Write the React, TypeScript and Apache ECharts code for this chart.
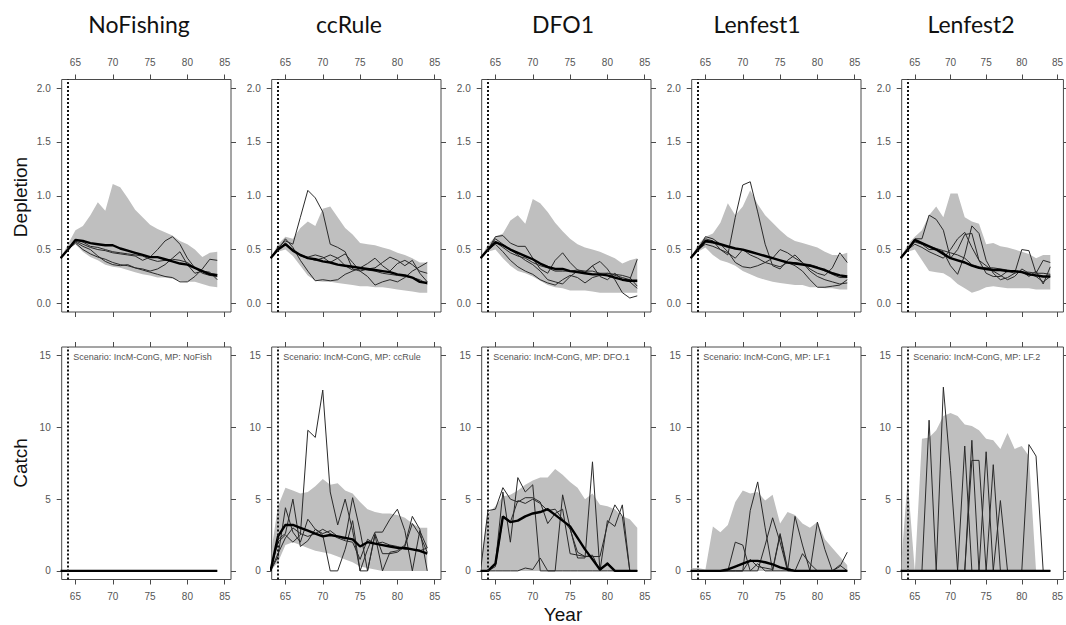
import React, { useEffect, useRef } from "react";
import * as echarts from "echarts";

const YEARS = [63, 64, 65, 66, 67, 68, 69, 70, 71, 72, 73, 74, 75, 76, 77, 78, 79, 80, 81, 82, 83, 84];
const MP_TITLES = ["NoFishing", "ccRule", "DFO1", "Lenfest1", "Lenfest2"];
const MP_CODES = ["NoFish", "ccRule", "DFO.1", "LF.1", "LF.2"];
const X_TICKS = [65, 70, 75, 80, 85];
const DEP_TICKS = [0, 0.5, 1, 1.5, 2];
const CATCH_TICKS = [0, 5, 10, 15];
const PROJ_START = 64;

// ---------- Depletion ----------
const depNoFishUpper = [0.42, 0.55, 0.68, 0.72, 0.82, 0.94, 0.86, 1.11, 1.08, 0.98, 0.87, 0.8, 0.73, 0.69, 0.66, 0.63, 0.58, 0.55, 0.5, 0.43, 0.47, 0.48];
const depNoFishLower = [0.42, 0.5, 0.55, 0.48, 0.43, 0.4, 0.36, 0.34, 0.33, 0.31, 0.29, 0.27, 0.26, 0.24, 0.24, 0.23, 0.21, 0.2, 0.2, 0.18, 0.16, 0.15];
const depNoFishMedian = [0.42, 0.5, 0.59, 0.58, 0.56, 0.55, 0.54, 0.54, 0.51, 0.49, 0.47, 0.45, 0.43, 0.43, 0.41, 0.39, 0.37, 0.36, 0.33, 0.3, 0.27, 0.26];
const depNoFishSim1 = [0.42, 0.5, 0.58, 0.55, 0.52, 0.5, 0.49, 0.47, 0.46, 0.45, 0.44, 0.4, 0.43, 0.5, 0.58, 0.62, 0.55, 0.42, 0.33, 0.28, 0.26, 0.25];
const depNoFishSim2 = [0.42, 0.5, 0.56, 0.5, 0.46, 0.43, 0.41, 0.38, 0.36, 0.35, 0.33, 0.31, 0.29, 0.27, 0.25, 0.24, 0.2, 0.2, 0.25, 0.32, 0.41, 0.4];
const depNoFishSim3 = [0.42, 0.5, 0.57, 0.53, 0.5, 0.44, 0.39, 0.36, 0.35, 0.36, 0.33, 0.32, 0.3, 0.32, 0.36, 0.42, 0.48, 0.36, 0.28, 0.3, 0.29, 0.22];
const depNoFishSim4 = [0.42, 0.5, 0.59, 0.57, 0.53, 0.52, 0.5, 0.48, 0.47, 0.46, 0.45, 0.44, 0.41, 0.39, 0.4, 0.41, 0.4, 0.38, 0.33, 0.3, 0.28, 0.27];

const depCcUpper = [0.42, 0.55, 0.62, 0.6, 0.7, 0.76, 0.72, 0.88, 0.9, 0.8, 0.7, 0.64, 0.56, 0.55, 0.54, 0.52, 0.5, 0.47, 0.45, 0.42, 0.38, 0.38];
const depCcLower = [0.42, 0.48, 0.5, 0.44, 0.35, 0.26, 0.21, 0.2, 0.2, 0.19, 0.18, 0.17, 0.16, 0.16, 0.15, 0.15, 0.14, 0.13, 0.12, 0.11, 0.1, 0.1];
const depCcMedian = [0.42, 0.5, 0.55, 0.49, 0.45, 0.42, 0.41, 0.39, 0.38, 0.36, 0.35, 0.34, 0.33, 0.32, 0.31, 0.3, 0.29, 0.27, 0.26, 0.24, 0.2, 0.19];
const depCcSim1 = [0.42, 0.52, 0.58, 0.55, 0.8, 1.05, 0.98, 0.85, 0.55, 0.52, 0.48, 0.32, 0.3, 0.25, 0.17, 0.2, 0.22, 0.2, 0.24, 0.3, 0.34, 0.38];
const depCcSim2 = [0.42, 0.5, 0.6, 0.52, 0.4, 0.3, 0.21, 0.22, 0.21, 0.22, 0.27, 0.3, 0.33, 0.37, 0.42, 0.35, 0.3, 0.37, 0.4, 0.36, 0.3, 0.28];
const depCcSim3 = [0.42, 0.5, 0.55, 0.5, 0.45, 0.43, 0.45, 0.43, 0.38, 0.42, 0.46, 0.38, 0.3, 0.32, 0.33, 0.38, 0.43, 0.4, 0.35, 0.4, 0.28, 0.2];
const depCcSim4 = [0.42, 0.5, 0.56, 0.5, 0.44, 0.42, 0.4, 0.42, 0.45, 0.42, 0.35, 0.31, 0.32, 0.31, 0.3, 0.28, 0.27, 0.26, 0.25, 0.24, 0.22, 0.18];

const depDfoUpper = [0.42, 0.55, 0.62, 0.65, 0.77, 0.82, 0.74, 0.97, 0.93, 0.85, 0.75, 0.67, 0.6, 0.55, 0.52, 0.5, 0.48, 0.45, 0.42, 0.37, 0.4, 0.42];
const depDfoLower = [0.42, 0.48, 0.5, 0.42, 0.35, 0.3, 0.28, 0.25, 0.21, 0.17, 0.15, 0.14, 0.12, 0.12, 0.12, 0.11, 0.1, 0.1, 0.1, 0.1, 0.1, 0.1];
const depDfoMedian = [0.42, 0.5, 0.57, 0.54, 0.5, 0.47, 0.44, 0.41, 0.37, 0.34, 0.32, 0.32, 0.3, 0.29, 0.28, 0.27, 0.27, 0.26, 0.24, 0.22, 0.21, 0.21];
const depDfoSim1 = [0.42, 0.5, 0.62, 0.63, 0.56, 0.53, 0.53, 0.42, 0.32, 0.28, 0.4, 0.47, 0.38, 0.31, 0.29, 0.35, 0.39, 0.32, 0.22, 0.1, 0.05, 0.07];
const depDfoSim2 = [0.42, 0.5, 0.6, 0.55, 0.5, 0.45, 0.4, 0.36, 0.3, 0.22, 0.2, 0.18, 0.25, 0.3, 0.28, 0.35, 0.25, 0.22, 0.28, 0.22, 0.2, 0.14];
const depDfoSim3 = [0.42, 0.5, 0.55, 0.48, 0.4, 0.34, 0.3, 0.27, 0.22, 0.19, 0.17, 0.22, 0.26, 0.24, 0.19, 0.24, 0.26, 0.28, 0.26, 0.24, 0.22, 0.41];
const depDfoSim4 = [0.42, 0.5, 0.57, 0.52, 0.47, 0.44, 0.42, 0.38, 0.35, 0.33, 0.3, 0.3, 0.3, 0.31, 0.3, 0.3, 0.28, 0.28, 0.27, 0.26, 0.24, 0.16];

const depLf1Upper = [0.42, 0.55, 0.62, 0.65, 0.75, 0.93, 0.82, 0.9, 1.05, 0.92, 0.82, 0.75, 0.68, 0.62, 0.58, 0.56, 0.54, 0.52, 0.48, 0.45, 0.45, 0.47];
const depLf1Lower = [0.42, 0.48, 0.52, 0.45, 0.4, 0.38, 0.35, 0.3, 0.27, 0.24, 0.22, 0.2, 0.19, 0.18, 0.17, 0.17, 0.15, 0.15, 0.14, 0.14, 0.13, 0.13];
const depLf1Median = [0.42, 0.5, 0.58, 0.57, 0.55, 0.53, 0.51, 0.5, 0.48, 0.46, 0.44, 0.42, 0.4, 0.38, 0.37, 0.36, 0.35, 0.33, 0.31, 0.28, 0.26, 0.25];
const depLf1Sim1 = [0.42, 0.52, 0.6, 0.58, 0.5, 0.45, 0.8, 1.1, 1.13, 0.85, 0.55, 0.35, 0.32, 0.4, 0.45, 0.38, 0.3, 0.25, 0.22, 0.2, 0.18, 0.19];
const depLf1Sim2 = [0.42, 0.5, 0.62, 0.6, 0.55, 0.48, 0.38, 0.34, 0.33, 0.35, 0.38, 0.42, 0.5, 0.47, 0.42, 0.38, 0.32, 0.28, 0.26, 0.33, 0.47, 0.38];
const depLf1Sim3 = [0.42, 0.5, 0.55, 0.53, 0.5, 0.47, 0.42, 0.5, 0.45, 0.42, 0.38, 0.36, 0.34, 0.38, 0.35, 0.3, 0.22, 0.15, 0.15, 0.16, 0.17, 0.22];
const depLf1Sim4 = [0.42, 0.5, 0.57, 0.56, 0.54, 0.52, 0.51, 0.5, 0.48, 0.46, 0.44, 0.42, 0.4, 0.38, 0.38, 0.37, 0.36, 0.34, 0.3, 0.27, 0.24, 0.24];

const depLf2Upper = [0.42, 0.55, 0.62, 0.68, 0.82, 0.9, 0.8, 1.02, 1.02, 0.8, 0.76, 0.74, 0.55, 0.56, 0.53, 0.52, 0.5, 0.48, 0.46, 0.42, 0.45, 0.45];
const depLf2Lower = [0.42, 0.48, 0.5, 0.4, 0.3, 0.29, 0.28, 0.24, 0.18, 0.14, 0.1, 0.12, 0.15, 0.16, 0.15, 0.14, 0.14, 0.14, 0.14, 0.13, 0.13, 0.13];
const depLf2Median = [0.42, 0.5, 0.59, 0.56, 0.53, 0.5, 0.46, 0.42, 0.4, 0.38, 0.35, 0.33, 0.32, 0.31, 0.31, 0.3, 0.3, 0.29, 0.27, 0.26, 0.25, 0.25];
const depLf2Sim1 = [0.42, 0.5, 0.6, 0.6, 0.82, 0.78, 0.68, 0.42, 0.5, 0.64, 0.65, 0.4, 0.28, 0.25, 0.25, 0.3, 0.28, 0.5, 0.49, 0.28, 0.4, 0.38];
const depLf2Sim2 = [0.42, 0.5, 0.58, 0.55, 0.5, 0.5, 0.48, 0.35, 0.27, 0.45, 0.72, 0.65, 0.4, 0.28, 0.22, 0.24, 0.28, 0.3, 0.25, 0.3, 0.18, 0.34];
const depLf2Sim3 = [0.42, 0.5, 0.55, 0.52, 0.48, 0.45, 0.42, 0.5, 0.6, 0.66, 0.52, 0.4, 0.35, 0.3, 0.26, 0.22, 0.25, 0.32, 0.28, 0.25, 0.2, 0.25];
const depLf2Sim4 = [0.42, 0.5, 0.57, 0.55, 0.53, 0.51, 0.49, 0.47, 0.45, 0.42, 0.36, 0.34, 0.33, 0.33, 0.32, 0.31, 0.3, 0.29, 0.29, 0.28, 0.28, 0.27];

// ---------- Catch ----------
const catchNoFishUpper = [0, 0, 0, 0, 0, 0, 0, 0, 0, 0, 0, 0, 0, 0, 0, 0, 0, 0, 0, 0, 0, 0];
const catchNoFishLower = [0, 0, 0, 0, 0, 0, 0, 0, 0, 0, 0, 0, 0, 0, 0, 0, 0, 0, 0, 0, 0, 0];
const catchNoFishMedian = [0, 0, 0, 0, 0, 0, 0, 0, 0, 0, 0, 0, 0, 0, 0, 0, 0, 0, 0, 0, 0, 0];
const catchNoFishSim1 = [0, 0, 0, 0, 0, 0, 0, 0, 0, 0, 0, 0, 0, 0, 0, 0, 0, 0, 0, 0, 0, 0];

const catchCcUpper = [1.0, 4.5, 5.8, 5.6, 5.4, 5.5, 5.9, 6.4, 6.0, 6.1, 5.6, 5.4, 4.8, 4.3, 4.1, 4.0, 4.0, 3.9, 3.7, 3.3, 3.0, 3.0];
const catchCcLower = [0, 0.6, 1.8, 2.0, 1.8, 1.6, 1.4, 1.3, 1.2, 1.0, 0.8, 0.6, 0.3, 0.2, 0.1, 0, 0, 0, 0, 0, 0, 0];
const catchCcMedian = [0, 2.4, 3.2, 3.2, 3.0, 2.8, 2.6, 2.4, 2.5, 2.4, 2.3, 2.2, 1.7, 2.0, 1.9, 1.8, 1.7, 1.6, 1.6, 1.5, 1.4, 1.2];
const catchCcSim1 = [0, 2.0, 2.5, 2.0, 2.5, 9.8, 9.3, 12.6, 5.5, 3.2, 5.0, 2.8, 0, 1.5, 2.7, 2.7, 3.6, 4.3, 2.8, 0, 2.8, 1.6];
const catchCcSim2 = [0, 1.0, 4.4, 2.7, 2.0, 3.6, 2.9, 2.6, 2.8, 2.4, 2.2, 5.1, 2.8, 0, 2.5, 0, 1.3, 1.4, 1.8, 3.8, 2.9, 0];
const catchCcSim3 = [0, 2.2, 2.6, 5.0, 1.7, 2.1, 2.9, 2.5, 0, 0, 1.5, 3.5, 0, 0, 2.6, 1.2, 1.2, 1.3, 1.7, 3.3, 2.5, 1.3];
const catchCcSim4 = [0, 1.2, 2.3, 3.0, 2.6, 2.4, 2.6, 2.9, 2.6, 2.3, 2.1, 2.0, 0.8, 2.2, 1.9, 2.0, 1.8, 1.7, 1.5, 1.5, 1.4, 1.6];

const catchDfoUpper = [0.5, 4.0, 4.5, 5.2, 5.3, 5.6, 6.0, 6.3, 6.5, 6.5, 7.1, 6.7, 6.2, 5.8, 5.0, 5.4, 4.6, 4.5, 4.3, 3.8, 3.6, 3.0];
const catchDfoLower = [0, 0, 0, 0, 0, 0, 0, 0, 0, 0, 0, 0, 0, 0, 0, 0, 0, 0, 0, 0, 0, 0];
const catchDfoMedian = [0, 0, 0.5, 3.8, 3.4, 3.5, 3.8, 4.0, 4.1, 4.3, 3.9, 3.5, 3.1, 2.3, 1.5, 0.8, 0.1, 0.5, 0, 0, 0, 0];
const catchDfoSim1 = [0, 4.2, 4.3, 5.8, 5.0, 4.8, 5.1, 5.1, 4.8, 3.3, 4.0, 4.3, 1.2, 1.1, 1.0, 1.0, 1.0, 3.2, 4.6, 3.8, 0, 0];
const catchDfoSim2 = [0, 0, 0.5, 5.5, 2.0, 6.5, 5.5, 6.0, 0, 0, 0, 5.3, 3.0, 0.9, 0.9, 7.6, 0, 3.5, 3.1, 4.6, 0, 0];
const catchDfoSim3 = [0, 0, 0, 0, 0, 0, 0.2, 0.1, 0.9, 0, 0, 0, 0, 0, 0, 0, 0, 0, 0, 0, 0, 0];
const catchDfoSim4 = [0, 0, 0.3, 3.7, 3.4, 4.9, 4.7, 5.0, 4.7, 4.2, 4.3, 3.6, 2.9, 1.3, 1.0, 1.1, 0, 0.6, 0, 0, 0, 0];

const catchLf1Upper = [0.2, 0.2, 0.1, 3.1, 2.7, 3.2, 4.8, 5.6, 5.4, 5.5, 4.9, 5.3, 3.3, 4.1, 3.9, 3.3, 3.0, 3.4, 2.2, 1.6, 1.0, 0.4];
const catchLf1Lower = [0, 0, 0, 0, 0, 0, 0, 0, 0, 0, 0, 0, 0, 0, 0, 0, 0, 0, 0, 0, 0, 0];
const catchLf1Median = [0, 0, 0, 0, 0, 0.1, 0.3, 0.5, 0.7, 0.7, 0.6, 0.45, 0.25, 0.1, 0, 0, 0, 0, 0, 0, 0, 0];
const catchLf1Sim1 = [0, 0, 0, 0, 0, 0, 2.0, 1.8, 0, 0.5, 0, 0, 0, 0, 0, 0, 0, 0, 0, 0, 0, 0];
const catchLf1Sim2 = [0, 0, 0, 0, 0, 0, 0, 0, 4.2, 6.2, 3.0, 0, 2.5, 0, 3.8, 1.8, 0, 3.4, 1.5, 0, 0, 0];
const catchLf1Sim3 = [0, 0, 0, 0, 0, 0, 0, 0, 0, 0, 1.8, 3.7, 2.0, 0, 0, 1.2, 0.5, 0, 0, 0, 0.3, 1.3];
const catchLf1Sim4 = [0, 0, 0, 0, 0, 0, 0, 0, 0.8, 0.3, 0.2, 0.1, 2.6, 0.2, 0, 0, 0, 0, 0, 0, 0.4, 0];

const catchLf2Upper = [0, 6.3, 0, 9.2, 9.3, 9.8, 10.8, 11.0, 10.8, 10.2, 10.1, 9.8, 9.2, 9.1, 8.5, 9.6, 8.5, 8.7, 8.0, 0, 0, 0];
const catchLf2Lower = [0, 0, 0, 0, 0, 0, 0, 0, 0, 0, 0, 0, 0, 0, 0, 0, 0, 0, 0, 0, 0, 0];
const catchLf2Median = [0, 0, 0, 0, 0, 0, 0, 0, 0, 0, 0, 0, 0, 0, 0, 0, 0, 0, 0, 0, 0, 0];
const catchLf2Sim1 = [0, 0, 0, 0, 10.5, 0, 0, 0, 0, 8.7, 0, 0, 8.3, 0, 0, 0, 0, 0, 8.8, 8.0, 0, 0];
const catchLf2Sim2 = [0, 0, 0, 0, 0, 0, 12.8, 7.0, 0, 0, 9.1, 0, 0, 7.4, 0, 0, 0, 0, 0, 0, 0, 0];
const catchLf2Sim3 = [0, 0, 0, 0, 0, 0, 0, 0, 0, 0, 7.7, 7.7, 0, 0, 4.9, 0, 0, 0, 0, 0, 0, 0];

const DEP_PANELS = [
  { upper: depNoFishUpper, lower: depNoFishLower, median: depNoFishMedian, sims: [depNoFishSim1, depNoFishSim2, depNoFishSim3, depNoFishSim4] },
  { upper: depCcUpper, lower: depCcLower, median: depCcMedian, sims: [depCcSim1, depCcSim2, depCcSim3, depCcSim4] },
  { upper: depDfoUpper, lower: depDfoLower, median: depDfoMedian, sims: [depDfoSim1, depDfoSim2, depDfoSim3, depDfoSim4] },
  { upper: depLf1Upper, lower: depLf1Lower, median: depLf1Median, sims: [depLf1Sim1, depLf1Sim2, depLf1Sim3, depLf1Sim4] },
  { upper: depLf2Upper, lower: depLf2Lower, median: depLf2Median, sims: [depLf2Sim1, depLf2Sim2, depLf2Sim3, depLf2Sim4] },
];
const CATCH_PANELS = [
  { upper: catchNoFishUpper, lower: catchNoFishLower, median: catchNoFishMedian, sims: [catchNoFishSim1] },
  { upper: catchCcUpper, lower: catchCcLower, median: catchCcMedian, sims: [catchCcSim1, catchCcSim2, catchCcSim3, catchCcSim4] },
  { upper: catchDfoUpper, lower: catchDfoLower, median: catchDfoMedian, sims: [catchDfoSim1, catchDfoSim2, catchDfoSim3, catchDfoSim4] },
  { upper: catchLf1Upper, lower: catchLf1Lower, median: catchLf1Median, sims: [catchLf1Sim1, catchLf1Sim2, catchLf1Sim3, catchLf1Sim4] },
  { upper: catchLf2Upper, lower: catchLf2Lower, median: catchLf2Median, sims: [catchLf2Sim1, catchLf2Sim2, catchLf2Sim3] },
];

const X_MIN = 63.16;
const X_MAX = 85.84;
const DEP_MIN = -0.08;
const DEP_MAX = 2.08;
const CATCH_MIN = -0.6;
const CATCH_MAX = 15.6;

const FRAME = "#4a4a4a";
const TICK_LABEL = "#555555";
const BAND = "#bfbfbf";

function buildOption() {
  const grid: any[] = [];
  const xAxis: any[] = [];
  const yAxis: any[] = [];
  const series: any[] = [];
  const graphic: any[] = [];

  const colLeft = (c: number) => 61.7 + 210 * c;
  const panelW = 169.3;
  const rowTop = [79.5, 347];
  const panelH = 232.5;

  for (let r = 0; r < 2; r++) {
    for (let c = 0; c < 5; c++) {
      const idx = r * 5 + c;
      const panel = r === 0 ? DEP_PANELS[c] : CATCH_PANELS[c];
      const yTicks = r === 0 ? DEP_TICKS : CATCH_TICKS;
      grid.push({
        left: colLeft(c),
        top: rowTop[r],
        width: panelW,
        height: panelH,
        show: true,
        borderColor: FRAME,
        borderWidth: 1,
        backgroundColor: "transparent",
      });
      const xBase = {
        gridIndex: idx,
        type: "value",
        min: X_MIN,
        max: X_MAX,
        axisLine: { show: false, onZero: false },
        splitLine: { show: false },
        axisTick: { show: true, inside: false, length: 5, customValues: X_TICKS, lineStyle: { color: FRAME, width: 1 } },
      };
      xAxis.push({
        ...xBase,
        position: r === 0 ? "top" : "bottom",
        axisLabel: { show: true, customValues: X_TICKS, fontSize: 10, color: TICK_LABEL, margin: 12, fontFamily: "Liberation Sans" },
      });
      xAxis.push({
        ...xBase,
        position: r === 0 ? "bottom" : "top",
        axisLabel: { show: false },
      });
      const yBase = {
        gridIndex: idx,
        type: "value",
        min: r === 0 ? DEP_MIN : CATCH_MIN,
        max: r === 0 ? DEP_MAX : CATCH_MAX,
        axisLine: { show: false, onZero: false },
        splitLine: { show: false },
        axisTick: { show: true, inside: false, length: 5, customValues: yTicks, lineStyle: { color: FRAME, width: 1 } },
      };
      yAxis.push({
        ...yBase,
        position: "left",
        axisLabel: {
          show: true,
          customValues: yTicks,
          fontSize: 10,
          color: TICK_LABEL,
          margin: 11,
          fontFamily: "Liberation Sans",
          formatter: (v: number) => (r === 0 ? v.toFixed(1) : String(Math.round(v))),
        },
      });
      yAxis.push({ ...yBase, position: "right", axisLabel: { show: false } });

      const xi = idx * 2;
      const yi = idx * 2;
      const up = panel.upper;
      const lo = panel.lower;
      series.push({
        type: "custom",
        xAxisIndex: xi,
        yAxisIndex: yi,
        clip: true,
        silent: true,
        z: 1,
        data: [[PROJ_START, 0]],
        renderItem: (params: any, api: any) => {
          const pts: number[][] = [];
          for (let i = 0; i < YEARS.length; i++) pts.push(api.coord([YEARS[i], up[i]]));
          for (let i = YEARS.length - 1; i >= 0; i--) pts.push(api.coord([YEARS[i], lo[i]]));
          const cs = params.coordSys;
          return {
            type: "group",
            clipPath: { type: "rect", shape: { x: cs.x, y: cs.y, width: cs.width, height: cs.height } },
            children: [{ type: "polygon", shape: { points: pts }, style: { fill: BAND, stroke: null } }],
          };
        },
      });
      panel.sims.forEach((s: number[]) => {
        series.push({
          type: "line",
          xAxisIndex: xi,
          yAxisIndex: yi,
          data: YEARS.map((y, i) => [y, s[i]]),
          symbol: "none",
          silent: true,
          z: 3,
          lineStyle: { color: "#2a2a2a", width: 1 },
        });
      });
      series.push({
        type: "line",
        xAxisIndex: xi,
        yAxisIndex: yi,
        data: YEARS.map((y, i) => [y, panel.median[i]]),
        symbol: "none",
        silent: true,
        z: 4,
        lineStyle: { color: "#000", width: 2.4 },
        markLine: {
          silent: true,
          symbol: ["none", "none"],
          label: { show: false },
          lineStyle: { color: "#111", width: 2, type: [2, 2] },
          data: [{ xAxis: PROJ_START }],
        },
      });

      if (r === 1) {
        graphic.push({
          type: "text",
          x: colLeft(c) + 11.5,
          y: rowTop[r] + 10,
          style: {
            text: `Scenario: IncM-ConG, MP: ${MP_CODES[c]}`,
            font: "9px 'Liberation Sans'",
            fill: "#555",
            verticalAlign: "middle",
            align: "left",
          },
        });
      }
    }
  }

  const titleCenters = [139, 349, 563, 757, 971];
  MP_TITLES.forEach((t, c) => {
    graphic.push({
      type: "text",
      x: titleCenters[c],
      y: 24,
      style: { text: t, font: "23px Lato", fill: "#111", align: "center", verticalAlign: "middle" },
    });
  });
  graphic.push({
    type: "text",
    x: 20,
    y: 197,
    rotation: Math.PI / 2,
    style: { text: "Depletion", font: "19px 'Liberation Sans'", fill: "#111", align: "center", verticalAlign: "middle" },
  });
  graphic.push({
    type: "text",
    x: 20,
    y: 463,
    rotation: Math.PI / 2,
    style: { text: "Catch", font: "19px 'Liberation Sans'", fill: "#111", align: "center", verticalAlign: "middle" },
  });
  graphic.push({
    type: "text",
    x: 563,
    y: 614,
    style: { text: "Year", font: "19px 'Liberation Sans'", fill: "#111", align: "center", verticalAlign: "middle" },
  });

  return {
    animation: false,
    backgroundColor: "#ffffff",
    grid,
    xAxis,
    yAxis,
    series,
    graphic,
  };
}

export default function App() {
  const ref = useRef<HTMLDivElement>(null);
  useEffect(() => {
    if (!ref.current) return;
    const chart = echarts.init(ref.current, null, { renderer: "svg" });
    chart.setOption(buildOption() as any);
    return () => chart.dispose();
  }, []);
  return (
    <div
      ref={ref}
      style={{ position: "absolute", left: 0, top: 0, width: 1066, height: 625, background: "#fff" }}
    />
  );
}
